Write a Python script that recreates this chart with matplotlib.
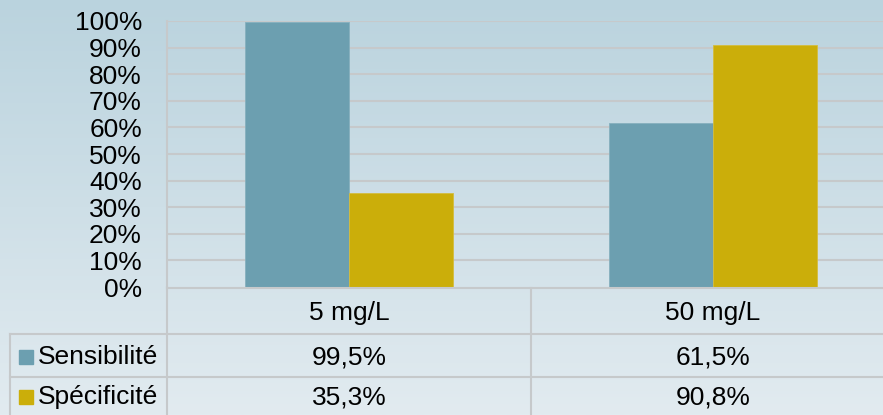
import numpy as np
import matplotlib
matplotlib.use("Agg")
import matplotlib.pyplot as plt
from matplotlib.transforms import blended_transform_factory
from matplotlib.lines import Line2D
from matplotlib.patches import Rectangle

categories = ["5 mg/L", "50 mg/L"]
series_names = ["Sensibilité", "Spécificité"]
sensibilite = [99.5, 61.5]
specificite = [35.3, 90.8]
table_labels = [["99,5%", "61,5%"], ["35,3%", "90,8%"]]
colors = ["#6c9fb0", "#cbae0a"]
yticks = list(range(0, 101, 10))

plt.rcParams['font.family'] = ['Liberation Sans', 'DejaVu Sans']
W, H = 883, 415
FS = 19
fig = plt.figure(figsize=(W / 100, H / 100), dpi=100)

# background gradient
bg = fig.add_axes([0, 0, 1, 1], zorder=0)
top = np.array([186, 211, 222]) / 255
bot = np.array([226, 235, 240]) / 255
t = np.linspace(0, 1, 256)[:, None]
grad = (top[None, :] * (1 - t) + bot[None, :] * t)[:, None, :]
bg.imshow(grad, aspect='auto', extent=[0, 1, 0, 1])
bg.axis('off')

def fx(px):
    return px / W

def fy(py):
    return 1 - py / H

x0, x1 = 167, 895
y100, y0 = 21, 287
ax = fig.add_axes([fx(x0), fy(y0), fx(x1) - fx(x0), fy(y100) - fy(y0)], zorder=1)
ax.patch.set_alpha(0)
ax.set_xlim(-0.5, 1.5)
ax.set_ylim(0, 100)

gc = "#c6c9cb"
for v in yticks[1:]:
    ax.axhline(v, color=gc, lw=1.5, zorder=1)

x = np.arange(len(categories))
bw = 104 / 364
ax.bar(x - bw / 2, sensibilite, bw, color=colors[0], edgecolor="#86b0be", lw=0.6, zorder=2)
ax.bar(x + bw / 2, specificite, bw, color=colors[1], edgecolor="#d4bd3e", lw=0.6, zorder=2)

ax.set_yticks(yticks)
ax.set_yticklabels([f"{v}%" for v in yticks], fontsize=FS)
ax.tick_params(axis='y', length=0, pad=18)
ax.set_xticks([])
for s in ['top', 'right', 'bottom']:
    ax.spines[s].set_visible(False)
ax.spines['left'].set_color(gc)
ax.spines['left'].set_linewidth(1.5)

# data table
trans = blended_transform_factory(ax.transData, fig.transFigure)
figt = fig.transFigure
lines = [
    ((fx(167), fx(883)), (fy(288), fy(288))),
    ((fx(10), fx(883)), (fy(334), fy(334))),
    ((fx(10), fx(883)), (fy(377), fy(377))),
    ((fx(10), fx(10)), (fy(334), 0)),
    ((fx(167), fx(167)), (fy(288), 0)),
]
for xs, ys in lines:
    fig.add_artist(Line2D(xs, ys, color=gc, lw=1.5, transform=figt, zorder=3))
for i in range(len(categories) - 1):
    xd = i + 0.5
    ax.add_artist(Line2D([xd, xd], [fy(288), 0], color=gc, lw=1.5, transform=trans, clip_on=False, zorder=3))

row_y = [fy(313), fy(357), fy(397)]
for i, c in enumerate(categories):
    fig.text(i, row_y[0], c, transform=trans, ha='center', va='center', fontsize=FS)
    for r in range(2):
        fig.text(i, row_y[r + 1], table_labels[r][i], transform=trans, ha='center', va='center', fontsize=FS)

for r, name in enumerate(series_names):
    yc = row_y[r + 1]
    fig.add_artist(Rectangle((fx(19), yc - 7 / H), 14 / W, 14 / H, transform=figt, color=colors[r], zorder=3))
    fig.text(fx(38), yc, name, ha='left', va='center', fontsize=FS)

fig.savefig("out.png", dpi=100)
